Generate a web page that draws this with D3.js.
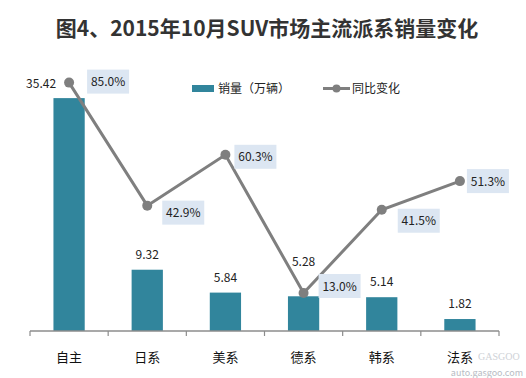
<!DOCTYPE html>
<html>
<head>
<meta charset="utf-8">
<script src="https://cdn.jsdelivr.net/npm/d3@7"></script>
<style>
  body { margin: 0; background: #fff; }
  svg text { font-family: "Noto Sans CJK SC", "Noto Sans", sans-serif; }
</style>
</head>
<body>
<div id="chart"></div>
<script>
//Datos
const categories = ['自主', '日系', '美系', '德系', '韩系', '法系'];
const sales = [35.42, 9.32, 5.84, 5.28, 5.14, 1.82];
const yoy = [85.0, 42.9, 60.3, 13.0, 41.5, 51.3];

//Colores fijos
const COLOR_BAR = '#31859C',
COLOR_LINE = '#7F7F7F',
COLOR_BOX = '#DCE6F2',
COLOR_AXIS = '#8C8C8C';

let width = 526, height = 378;
let margin = {top: 68, right: 27, bottom: 47, left: 30};

let svg = d3.select('#chart')
    .append('svg')
    .attr('width', width)
    .attr('height', height);

//Título
svg.append('text')
    .attr('x', 267)
    .attr('y', 36)
    .attr('text-anchor', 'middle')
    .style('font-size', '21px')
    .style('font-weight', 'bold')
    .attr('fill', '#333')
    .text('图4、2015年10月SUV市场主流派系销量变化');

let x = d3.scaleBand()
    .domain(categories)
    .range([margin.left, width - margin.right])
    .paddingInner(0.6)
    .paddingOuter(0.3);

let xOuter = d3.scaleBand()
    .domain(categories)
    .range([margin.left, width - margin.right]);

let y = d3.scaleLinear()
    .domain([0, 40])
    .range([height - margin.bottom, margin.top]);

let y2 = d3.scaleLinear()
    .domain([0, 90])
    .range([height - margin.bottom, margin.top]);

//Barras
svg.selectAll('.bar')
    .data(sales)
    .enter()
    .append('rect')
    .attr('class', 'bar')
    .attr('x', (d, i) => x(categories[i]))
    .attr('y', d => y(d))
    .attr('width', x.bandwidth())
    .attr('height', d => y(0) - y(d))
    .attr('fill', COLOR_BAR);

//Eje X
let xAxis = svg.append('g')
    .attr('transform', 'translate(0,' + y(0) + ')');

xAxis.append('line')
    .attr('x1', margin.left)
    .attr('x2', width - margin.right)
    .attr('stroke', COLOR_AXIS)
    .attr('stroke-width', 1.5);

let edges = categories.map(c => xOuter(c)).concat([width - margin.right]);
xAxis.selectAll('.tick')
    .data(edges)
    .enter()
    .append('line')
    .attr('x1', d => d)
    .attr('x2', d => d)
    .attr('y1', 0)
    .attr('y2', 5)
    .attr('stroke', COLOR_AXIS)
    .attr('stroke-width', 1.2);

xAxis.selectAll('.lbl')
    .data(categories)
    .enter()
    .append('text')
    .attr('x', d => xOuter(d) + xOuter.bandwidth() / 2)
    .attr('y', 31)
    .attr('text-anchor', 'middle')
    .style('font-size', '13px')
    .attr('fill', '#111')
    .text(d => d);

//Etiquetas de barras
const barNudge = [[-28, 0], [0, 0], [0, 0], [0, -19], [0, 0], [0, 0]];
svg.selectAll('.barlbl')
    .data(sales)
    .enter()
    .append('text')
    .attr('x', (d, i) => xOuter(categories[i]) + xOuter.bandwidth() / 2 + barNudge[i][0])
    .attr('y', (d, i) => i == 0 ? y2(yoy[0]) + 5 : y(d) - 11 + barNudge[i][1])
    .attr('text-anchor', 'middle')
    .style('font-size', '12px')
    .attr('fill', '#222')
    .text(d => d.toFixed(2));

//Línea
let cx = (d, i) => xOuter(categories[i]) + xOuter.bandwidth() / 2;

svg.append('path')
    .datum(yoy)
    .attr('fill', 'none')
    .attr('stroke', COLOR_LINE)
    .attr('stroke-width', 3)
    .attr('d', d3.line()
        .x(cx)
        .y(d => y2(d)));

svg.selectAll('.dot')
    .data(yoy)
    .enter()
    .append('circle')
    .attr('cx', cx)
    .attr('cy', d => y2(d))
    .attr('r', 5)
    .attr('fill', COLOR_LINE);

//Etiquetas de porcentaje
const pctNudge = [[18, -1], [15, 7], [9, 2], [15, -7], [16, 11], [7, 0]];
let pct = svg.selectAll('.pct')
    .data(yoy)
    .enter()
    .append('g')
    .attr('transform', (d, i) => 'translate(' + (cx(d, i) + pctNudge[i][0]) + ',' + (y2(d) + pctNudge[i][1]) + ')');

pct.append('rect')
    .attr('x', 0)
    .attr('y', -12)
    .attr('width', 42)
    .attr('height', 24)
    .attr('fill', COLOR_BOX);

pct.append('text')
    .attr('x', 21)
    .attr('y', 4.5)
    .attr('text-anchor', 'middle')
    .style('font-size', '12px')
    .attr('fill', '#222')
    .text(d => d.toFixed(1) + '%');

//Leyenda
let legend = svg.append('g');
legend.append('rect')
    .attr('x', 192)
    .attr('y', 85)
    .attr('width', 22)
    .attr('height', 7)
    .attr('fill', COLOR_BAR);
legend.append('text')
    .attr('x', 218)
    .attr('y', 93)
    .style('font-size', '12px')
    .attr('fill', '#222')
    .text('销量（万辆）');
legend.append('line')
    .attr('x1', 323)
    .attr('x2', 350)
    .attr('y1', 88.5)
    .attr('y2', 88.5)
    .attr('stroke', COLOR_LINE)
    .attr('stroke-width', 3);
legend.append('circle')
    .attr('cx', 336.5)
    .attr('cy', 88.5)
    .attr('r', 4)
    .attr('fill', COLOR_LINE);
legend.append('text')
    .attr('x', 352)
    .attr('y', 93)
    .style('font-size', '12px')
    .attr('fill', '#222')
    .text('同比变化');

//Marca de agua
svg.append('text')
    .attr('x', 523)
    .attr('y', 376)
    .attr('text-anchor', 'end')
    .style('font-size', '9px')
    .attr('fill', '#b8bcc4')
    .text('auto.gasgoo.com');
svg.append('text')
    .attr('x', 478)
    .attr('y', 360)
    .style('font-size', '10px')
    .style('font-family', 'serif')
    .attr('fill', '#c4c8ce')
    .attr('opacity', 0.8)
    .text('GASGOO');
</script>
</body>
</html>
